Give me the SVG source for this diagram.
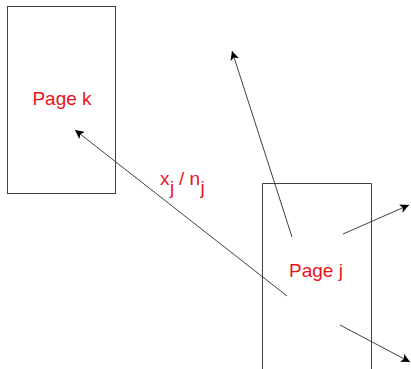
<svg xmlns="http://www.w3.org/2000/svg" width="411" height="369" viewBox="0 0 411 369">
<style>
.box{fill:none;stroke:#404040;stroke-width:1}
.lbl{font-family:"Liberation Sans",Arial,sans-serif;font-size:19px;fill:#e8141c}
.edge{stroke:#404040;stroke-width:1;fill:none;marker-end:url(#ah)}
</style>
<defs>
<marker id="ah" viewBox="0 0 10 10" refX="10" refY="5" markerWidth="9" markerHeight="9" markerUnits="userSpaceOnUse" orient="auto">
<path d="M0,0 L10,5 L0,10 L2.5,5 Z" fill="#000"/>
</marker>
</defs>
<rect width="411" height="369" fill="#fff"/>
<g id="page-k">
<rect class="box" x="7.5" y="6.5" width="108" height="187"/>
<text class="lbl" x="62" y="105" text-anchor="middle">Page k</text>
</g>
<g id="page-j">
<path class="box" d="M262.5,370 V183.5 H371.5 V370"/>
<text class="lbl" x="316" y="277" text-anchor="middle">Page j</text>
</g>
<g id="connectors">
<line class="edge" x1="287" y1="296" x2="75" y2="130"/>
<line class="edge" x1="292" y1="237" x2="232" y2="51"/>
<line class="edge" x1="343" y1="234" x2="409" y2="205"/>
<line class="edge" x1="340" y1="325" x2="410" y2="362"/>
</g>
<g id="edge-label">
<text class="lbl" x="160" y="185">x</text>
<text class="lbl" x="170" y="194">j</text>
<text class="lbl" x="179" y="185">/</text>
<text class="lbl" x="189.5" y="185">n</text>
<text class="lbl" x="200.5" y="194">j</text>
</g>
</svg>
